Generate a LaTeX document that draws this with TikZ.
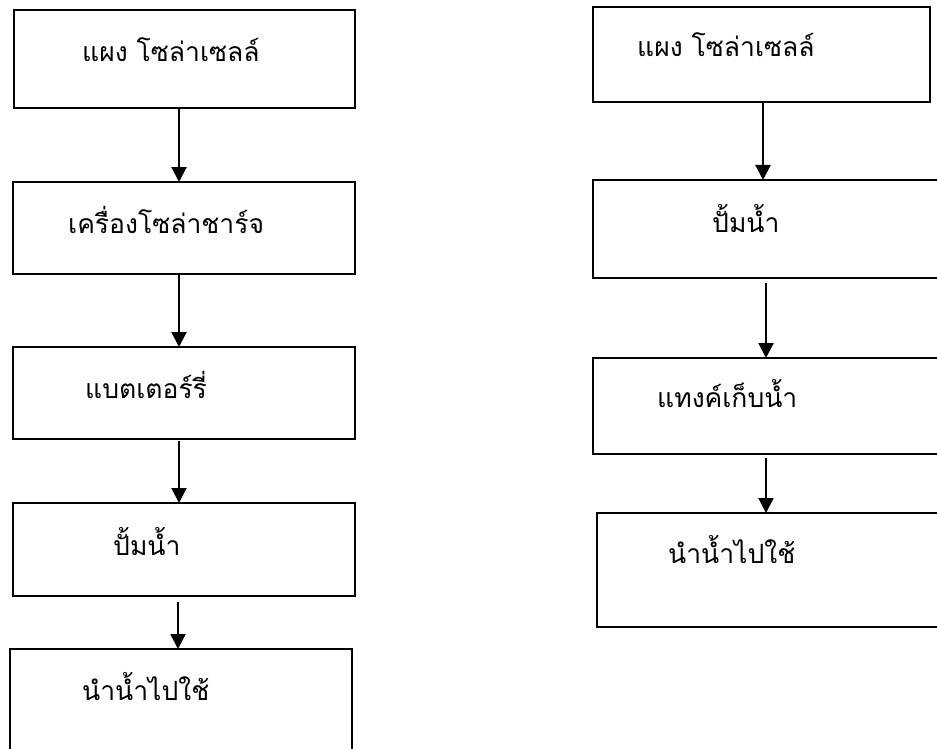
\documentclass[tikz,border=0pt]{standalone}
\usepackage{fontspec}
\newfontfamily\thaifont[Script=Thai]{Loma}
\usetikzlibrary{arrows.meta}
\begin{document}
\begin{tikzpicture}[x=1pt,y=-1pt,
  box/.style={draw=black, line width=1.8pt, rectangle, inner sep=0pt, outer sep=0pt, anchor=north west},
  lbl/.style={anchor=base west, inner sep=0pt, font=\thaifont\fontsize{26.5}{30}\selectfont},
  arr/.style={draw=black, line width=2.2pt, -{Triangle[width=15pt,length=15pt]}}]
\useasboundingbox (0,0) rectangle (937,749);
\clip (0,0) rectangle (937,749);
% left column
\node[box, minimum width=341pt, minimum height=98pt] (L1) at (14,10) {};
\node[box, minimum width=342pt, minimum height=92pt] (L2) at (13,182) {};
\node[box, minimum width=342pt, minimum height=92pt] (L3) at (13,347) {};
\node[box, minimum width=342pt, minimum height=93pt] (L4) at (13,503) {};
\node[box, minimum width=342pt, minimum height=130pt] (L5) at (10,649) {};
\node[lbl] (tL1) at (82,62) {แผง โซล่าเซลล์};
\node[lbl] (tL2) at (68,233) {เครื่องโซล่าชาร์จ};
\node[lbl] (tL3) at (85,398) {แบตเตอร์รี่};
\node[lbl] (tL4) at (113,555) {ปั้มน้ำ};
\node[lbl] (tL5) at (82,700) {นำน้ำไปใช้};
\draw[arr] ([xshift=-5.5pt]L1.south) -- ([xshift=-5pt]L2.north);
\draw[arr] ([xshift=-5pt]L2.south) -- ([xshift=-5pt]L3.north);
\draw[arr, shorten <=2pt] ([xshift=-5pt]L3.south) -- ([xshift=-5pt]L4.north);
\draw[arr, shorten <=6pt] ([xshift=-6pt]L4.south) -- ([xshift=-3pt]L5.north);
% right column
\node[box, minimum width=337pt, minimum height=95pt] (R1) at (593,7) {};
\node[box, minimum width=346pt, minimum height=98pt] (R2) at (593,180) {};
\node[box, minimum width=346pt, minimum height=96pt] (R3) at (593,358) {};
\node[box, minimum width=350pt, minimum height=114pt] (R4) at (597,513) {};
\node[lbl] (tR1) at (637,57) {แผง โซล่าเซลล์};
\node[lbl] (tR2) at (712,232) {ปั้มน้ำ};
\node[lbl] (tR3) at (657,407) {แทงค์เก็บน้ำ};
\node[lbl] (tR4) at (668,563) {นำน้ำไปใช้};
\draw[arr] ([xshift=1.5pt]R1.south) -- ([xshift=-3pt]R2.north);
\draw[arr, shorten <=5pt] (R2.south) -- (R3.north);
\draw[arr, shorten <=4pt] (R3.south) -- ([xshift=-6pt]R4.north);
\end{tikzpicture}
\end{document}
